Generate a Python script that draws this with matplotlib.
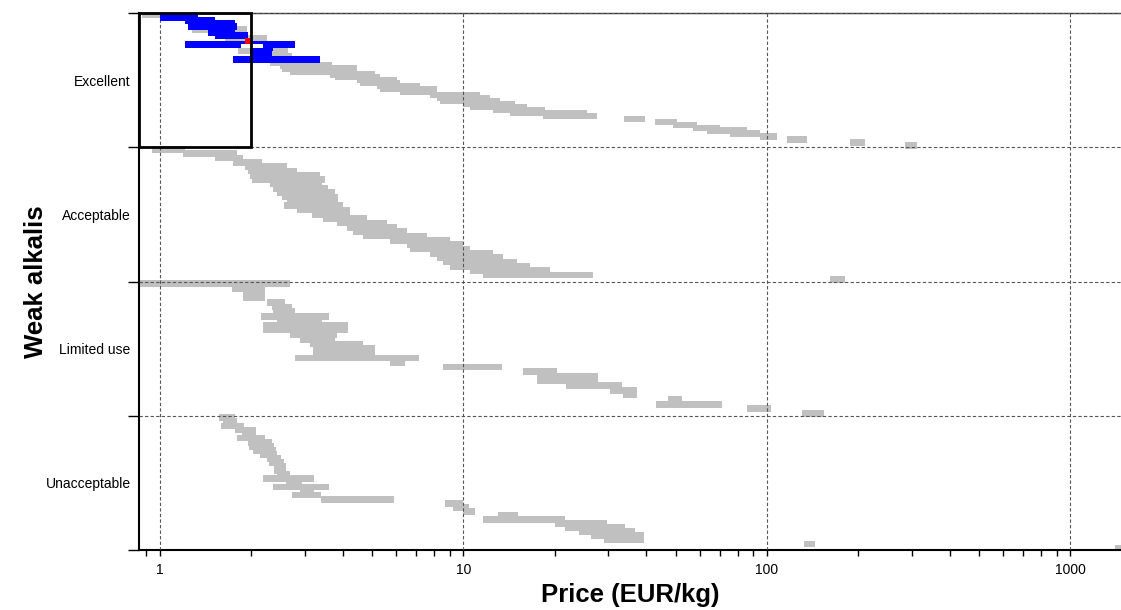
import matplotlib
matplotlib.use('Agg')
import matplotlib.pyplot as plt
from matplotlib.patches import Rectangle
from matplotlib.ticker import FixedLocator, LogLocator, NullFormatter
import numpy as np

plt.rcParams['font.family'] = ['Liberation Sans', 'DejaVu Sans']

categories = ['Excellent', 'Acceptable', 'Limited use', 'Unacceptable']
price_ticks = [1, 10, 100, 1000]
price_tick_labels = ['1', '10', '100', '1000']
selection_max_price = 2.0

# price ranges (EUR/kg), one entry per material, in plotting order
# status: 0 = fails selection, 1 = passes, 2 = highlighted
exc_lo = [0.87, 1.00, 1.21, 1.33, 1.24, 1.28, 1.44, 1.52, 1.64, 1.91, 1.21, 1.98, 1.81, 1.98, 1.98,
          1.74, 2.30, 2.49, 2.52, 2.68, 3.63, 3.77, 4.46, 4.56, 5.19, 5.31, 6.18, 7.76, 8.18, 8.37,
          9.96, 10.5, 12.5, 14.2, 18.3, 33.8, 42.8, 49.0, 57.0, 63.4, 75.5, 94.8, 116, 188, 285]
exc_hi = [1.08, 1.33, 1.52, 1.77, 1.79, 1.94, 1.77, 1.95, 2.25, 2.01, 2.79, 2.36, 2.64, 2.34, 2.72,
          3.37, 3.37, 3.69, 4.46, 4.46, 5.11, 5.31, 6.04, 6.18, 7.19, 8.18, 8.18, 11.3, 12.2, 13.2,
          14.8, 16.2, 18.6, 25.5, 27.5, 39.6, 50.5, 58.8, 70.0, 85.9, 94.8, 108, 135, 210, 312]
exc_status = [0, 1, 1, 1, 1, 0, 1, 1, 0, 2, 1, 1, 0, 1, 0,
              1, 0, 0, 0, 0, 0, 0, 0, 0, 0, 0, 0, 0, 0, 0,
              0, 0, 0, 0, 0, 0, 0, 0, 0, 0, 0, 0, 0, 0, 0]

acc_lo = [0.94, 1.19, 1.52, 1.74, 1.91, 1.95, 1.98, 2.01, 2.30, 2.36, 2.43, 2.52, 2.62, 2.56, 2.83,
          3.17, 3.44, 3.83, 4.13, 4.32, 4.67, 5.73, 6.51, 6.67, 7.76, 8.18, 8.56, 9.03, 10.5, 11.6, 161]
acc_hi = [1.21, 1.79, 1.88, 2.17, 2.62, 2.83, 3.37, 3.50, 3.42, 3.58, 3.77, 3.86, 3.86, 4.01, 4.23,
          4.23, 4.81, 5.60, 6.04, 6.51, 7.58, 9.03, 9.96, 10.5, 12.5, 13.5, 15.0, 16.6, 19.3, 26.7, 181]

lim_lo = [0.86, 1.73, 1.88, 1.88, 2.25, 2.34, 2.36, 2.15, 2.43, 2.18, 2.18, 2.68, 2.89, 3.12, 3.19,
          3.19, 2.79, 5.73, 8.56, 15.7, 17.5, 17.5, 21.8, 30.4, 33.5, 47.2, 43.1, 85.9, 130]
lim_hi = [2.68, 2.22, 2.22, 2.22, 2.58, 2.72, 2.79, 3.61, 3.42, 4.16, 4.16, 3.83, 3.77, 4.67, 5.11,
          5.11, 7.14, 6.42, 13.4, 20.3, 27.8, 27.8, 33.3, 37.3, 37.3, 52.5, 71.1, 103, 154]

una_lo = [1.57, 1.61, 1.59, 1.77, 1.86, 1.79, 1.95, 1.97, 2.03, 2.14, 2.25, 2.29, 2.38, 2.38, 2.43,
          2.18, 2.60, 2.36, 2.89, 2.72, 3.39, 8.69, 9.23, 9.96, 13.0, 11.6, 20.0, 21.6, 24.0, 26.3,
          29.0, 132, 1400]
una_hi = [1.77, 1.79, 1.89, 2.07, 2.07, 2.22, 2.34, 2.38, 2.41, 2.43, 2.50, 2.56, 2.60, 2.60, 2.68,
          3.22, 2.94, 3.61, 3.22, 3.39, 5.90, 9.96, 10.4, 10.9, 15.1, 21.6, 29.7, 34.1, 36.7, 39.3,
          39.3, 144, 1600]

GREY = '#c0c0c0'
BLUE = '#0000ff'
RED = '#ff0000'
BAR_H = 0.05

fig = plt.figure(figsize=(11.21, 6.10), dpi=100)
ax = fig.add_axes([139 / 1121, 1 - 550 / 610, 1 - 139 / 1121, 537 / 610])
ax.set_xscale('log')
x_min, x_max = 0.853, 1467
ax.set_xlim(x_min, x_max)
ax.set_ylim(4, 0)


def band_rows(band, n):
    return band + (np.arange(n) + 0.5) / n


# excellent band, coloured by selection status
lo = np.array(exc_lo)
hi = np.array(exc_hi)
st = np.array(exc_status)
y = band_rows(0, len(lo))
for code, col, z in [(0, GREY, 1), (1, BLUE, 3), (2, RED, 4)]:
    m = st == code
    ax.barh(y[m], hi[m] - lo[m], left=lo[m], height=BAR_H, color=col, lw=0, zorder=z)
# white label tag under the highlighted material
for yy, l, h in zip(y[st == 2], lo[st == 2], hi[st == 2]):
    ax.barh(yy + 0.035, h * 1.09 - l * 0.97, left=l * 0.97, height=0.03, color='white', lw=0, zorder=4)

for band, (l, h) in enumerate([(acc_lo, acc_hi), (lim_lo, lim_hi), (una_lo, una_hi)], start=1):
    l = np.array(l)
    h = np.array(h)
    ax.barh(band_rows(band, len(l)), h - l, left=l, height=BAR_H, color=GREY, lw=0, zorder=1)

# selection box
ax.add_patch(Rectangle((x_min, 0), selection_max_price - x_min, 1, fill=False,
                       edgecolor='black', lw=2, zorder=5, clip_on=False))

# axes, ticks, grid
ax.xaxis.set_major_locator(FixedLocator(price_ticks))
ax.set_xticklabels(price_tick_labels, fontsize=10)
ax.xaxis.set_minor_locator(LogLocator(base=10, subs=np.arange(2, 10)))
ax.xaxis.set_minor_formatter(NullFormatter())
ax.tick_params(axis='x', which='both', direction='out', length=4, width=1, pad=5)

ax.yaxis.set_major_locator(FixedLocator([0, 1, 2, 3, 4]))
ax.yaxis.set_major_formatter(NullFormatter())
ax.yaxis.set_minor_locator(FixedLocator([0.5, 1.5, 2.5, 3.5]))
ax.set_yticklabels(categories, minor=True, fontsize=10)
ax.tick_params(axis='y', which='major', direction='out', length=8, width=1)
ax.tick_params(axis='y', which='minor', length=0, pad=6)

ax.grid(True, which='major', axis='both', linestyle=(0, (3, 2)), color='#555555', lw=0.8, zorder=2)
ax.set_axisbelow(False)

for s in ['left', 'bottom']:
    ax.spines[s].set_linewidth(1.5)
ax.spines['top'].set_linewidth(1.0)
ax.spines['top'].set_color('#333333')
ax.spines['right'].set_visible(False)

ax.set_xlabel('Price (EUR/kg)', fontsize=18.5, fontweight='bold')
ax.set_ylabel('Weak alkalis', fontsize=18.5, fontweight='bold')
ax.xaxis.set_label_coords(0.5, -0.062)
ax.yaxis.set_label_coords(-0.093, 0.5)

fig.savefig('out.png', dpi=100)
